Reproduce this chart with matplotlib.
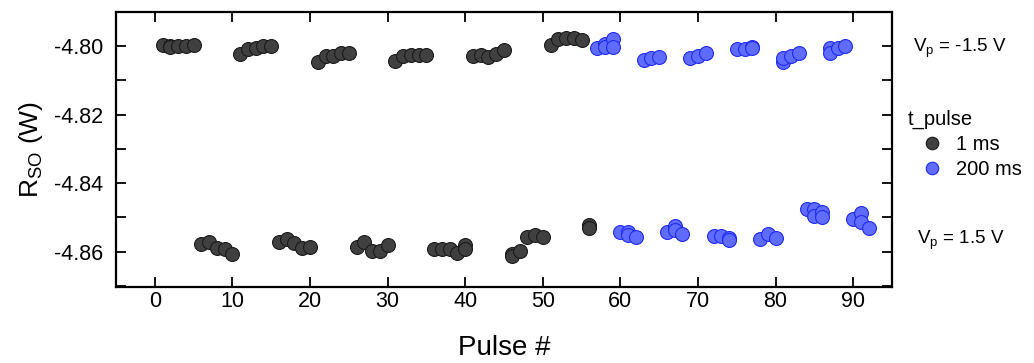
import numpy as np
import matplotlib
matplotlib.use('Agg')
import matplotlib.pyplot as plt

plt.rcParams['font.family'] = ['Liberation Sans', 'DejaVu Sans']

# 1 ms pulses (pulse number, R_SO value)
pulse_1ms = [1, 2, 2, 3, 4, 5,
             6, 7, 8, 9, 10,
             11, 12, 13, 14, 15,
             16, 17, 18, 19, 20,
             21, 22, 23, 24, 25,
             26, 27, 28, 29, 30,
             31, 32, 33, 34, 35,
             36, 37, 38, 39, 40, 40,
             41, 42, 43, 44, 45,
             46, 46, 47, 48, 49, 50,
             51, 52, 53, 54, 55,
             56, 56]
rso_1ms = [-4.7998, -4.8000, -4.8004, -4.7999, -4.7999, -4.7997,
           -4.8578, -4.8571, -4.8590, -4.8593, -4.8607,
           -4.8022, -4.8010, -4.8007, -4.8001, -4.8001,
           -4.8571, -4.8564, -4.8574, -4.8590, -4.8585,
           -4.8048, -4.8029, -4.8029, -4.8021, -4.8019,
           -4.8585, -4.8571, -4.8597, -4.8597, -4.8581,
           -4.8044, -4.8029, -4.8027, -4.8027, -4.8027,
           -4.8593, -4.8593, -4.8593, -4.8603, -4.8581, -4.8593,
           -4.8029, -4.8026, -4.8032, -4.8022, -4.8012,
           -4.8607, -4.8612, -4.8597, -4.8558, -4.8552, -4.8556,
           -4.7997, -4.7981, -4.7976, -4.7976, -4.7983,
           -4.8522, -4.8530]

# 200 ms pulses
pulse_200ms = [57, 58, 58, 59, 59,
               60, 61, 61, 62,
               63, 64, 65,
               66, 67, 67, 68,
               69, 70, 71,
               72, 73, 74, 74,
               75, 76, 77, 77,
               78, 79, 80,
               81, 81, 82, 83,
               84, 85, 85, 86, 86,
               87, 87, 88, 89,
               90, 91, 91, 92]
rso_200ms = [-4.8005, -4.7993, -4.8003, -4.7981, -4.8002,
             -4.8542, -4.8542, -4.8552, -4.8556,
             -4.8042, -4.8034, -4.8032,
             -4.8542, -4.8524, -4.8537, -4.8547,
             -4.8034, -4.8029, -4.8019,
             -4.8554, -4.8554, -4.8561, -4.8566,
             -4.8010, -4.8010, -4.8003, -4.8007,
             -4.8563, -4.8547, -4.8561,
             -4.8046, -4.8036, -4.8029, -4.8021,
             -4.8476, -4.8476, -4.8496, -4.8484, -4.8498,
             -4.8005, -4.8019, -4.8007, -4.8000,
             -4.8505, -4.8486, -4.8513, -4.8530]

fig = plt.figure(figsize=(10.34, 3.63), dpi=100)
ax = fig.add_axes([116/1034, 1 - 286.7/363, (892 - 116)/1034, (286.7 - 11.7)/363])

ax.plot(pulse_1ms, rso_1ms, 'o', ms=10, mfc='#404040', mec='#1a1a1a', mew=0.8, label='1 ms')
ax.plot(pulse_200ms, rso_200ms, 'o', ms=10, mfc='#5f6cff', mec='#1f2cf0', mew=0.8, label='200 ms')

ax.set_xlim(-5, 95)
ax.set_ylim(-4.8702, -4.7903)
ax.set_xticks(np.arange(0, 91, 10))
ax.set_yticks(np.arange(-4.86, -4.795, 0.02))
ax.set_yticks(np.arange(-4.87, -4.789, 0.01), minor=True)
ax.set_yticklabels(['-4.86', '-4.84', '-4.82', '-4.80'])

ax.tick_params(which='both', direction='in', top=True, right=True, length=7, width=1.3)
ax.tick_params(axis='y', labelsize=15.5, pad=9)
ax.tick_params(axis='x', labelsize=15.5, pad=3)
for s in ax.spines.values():
    s.set_linewidth(1.6)

ax.set_xlabel('Pulse #', fontsize=20, labelpad=17)
ax.set_ylabel(r'R$_\mathregular{SO}$ (W)', fontsize=19, labelpad=7)

fig.text(913/1034, 1 - 48/363, r'V$_\mathregular{p}$ = -1.5 V', fontsize=13.5, va='center', ha='left')
fig.text(917/1034, 1 - 240/363, r'V$_\mathregular{p}$ = 1.5 V', fontsize=13.5, va='center', ha='left')

leg = ax.legend(loc='upper left', bbox_to_anchor=(908/1034, 1 - 110/363),
                bbox_transform=fig.transFigure, frameon=False, title='t_pulse',
                fontsize=14.5, title_fontsize=14.5, markerscale=0.9,
                handletextpad=0.05, handlelength=2.35, labelspacing=0.3,
                borderpad=0, borderaxespad=0)
leg._legend_box.align = 'left'

fig.savefig('out.png', dpi=100)
